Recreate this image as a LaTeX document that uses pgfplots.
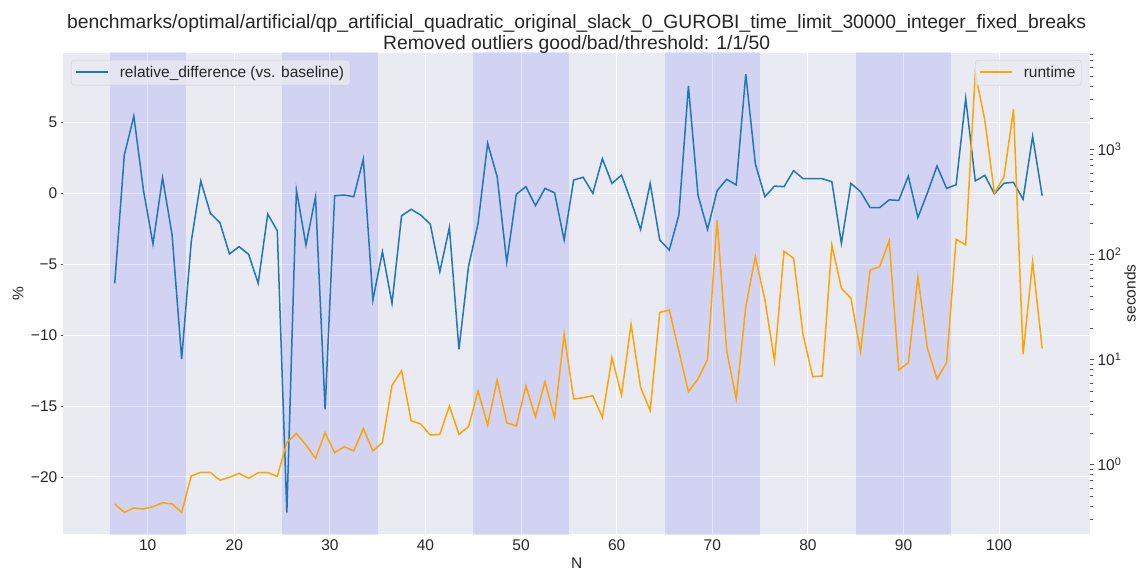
\documentclass[border=0pt]{standalone}
\usepackage{pgfplots}
\pgfplotsset{compat=1.18}
\usepackage{fontspec}
\setmainfont{Liberation Sans}

\definecolor{bg}{HTML}{EAEAF2}
\definecolor{diffblue}{HTML}{1F77B4}
\definecolor{runorange}{HTML}{FFA500}
\definecolor{tickgray}{HTML}{555555}
\definecolor{legedge}{HTML}{CCCCCC}
\definecolor{txt}{HTML}{262626}

\newcommand{\legstrut}{\rule[-3.5pt]{0pt}{15pt}}

% relative difference (%) per N
\pgfplotstableread{
x y
7.5 -6.35
8.5 2.70
9.5 5.45
10.5 0.23
11.5 -3.58
12.5 1.10
13.5 -2.94
14.5 -11.69
15.5 -3.41
16.5 0.87
17.5 -1.41
18.5 -2.07
19.5 -4.28
20.5 -3.76
21.5 -4.30
22.5 -6.35
23.5 -1.46
24.5 -2.64
25.5 -22.52
26.5 0.23
27.5 -3.65
28.5 -0.24
29.5 -15.23
30.5 -0.17
31.5 -0.12
32.5 -0.24
33.5 2.42
34.5 -7.52
35.5 -4.12
36.5 -7.76
37.5 -1.58
38.5 -1.13
39.5 -1.53
40.5 -2.17
41.5 -5.53
42.5 -2.42
43.5 -11.00
44.5 -5.17
45.5 -2.12
46.5 3.53
47.5 1.17
48.5 -4.87
49.5 -0.07
50.5 0.47
51.5 -0.87
52.5 0.35
53.5 0.04
54.5 -3.29
55.5 0.94
56.5 1.13
57.5 0.00
58.5 2.44
59.5 0.70
60.5 1.29
61.5 -0.55
62.5 -2.55
63.5 0.70
64.5 -3.29
65.5 -4.00
66.5 -1.53
67.5 7.57
68.5 -0.12
69.5 -2.54
70.5 0.18
71.5 0.99
72.5 0.59
73.5 8.41
74.5 2.07
75.5 -0.24
76.5 0.51
77.5 0.47
78.5 1.60
79.5 1.03
80.5 1.03
81.5 1.03
82.5 0.82
83.5 -3.53
84.5 0.70
85.5 0.12
86.5 -1.01
87.5 -1.01
88.5 -0.46
89.5 -0.50
90.5 1.21
91.5 -1.70
92.5 0.04
93.5 1.93
94.5 0.35
95.5 0.61
96.5 6.70
97.5 0.87
98.5 1.27
99.5 -0.03
100.5 0.71
101.5 0.78
102.5 -0.42
103.5 4.02
104.5 -0.17
}\reldiff

% runtime (seconds) per N
\pgfplotstableread{
x y
7.5 0.419
8.5 0.349
9.5 0.384
10.5 0.375
11.5 0.395
12.5 0.431
13.5 0.419
14.5 0.349
15.5 0.774
16.5 0.839
17.5 0.839
18.5 0.705
19.5 0.752
20.5 0.821
21.5 0.736
22.5 0.832
23.5 0.832
24.5 0.769
25.5 1.61
26.5 1.97
27.5 1.53
28.5 1.14
29.5 2.00
30.5 1.29
31.5 1.47
32.5 1.34
33.5 2.20
34.5 1.34
35.5 1.62
36.5 5.65
37.5 7.79
38.5 2.60
39.5 2.42
40.5 1.90
41.5 1.93
42.5 3.59
43.5 1.93
44.5 2.28
45.5 4.99
46.5 2.37
47.5 6.35
48.5 2.49
49.5 2.32
50.5 5.57
51.5 2.84
52.5 6.12
53.5 2.78
54.5 17.3
55.5 4.19
56.5 4.31
57.5 4.50
58.5 2.80
59.5 10.4
60.5 4.57
61.5 21.5
62.5 5.40
63.5 3.24
64.5 28.0
65.5 29.5
66.5 12.0
67.5 4.92
68.5 6.49
69.5 10.0
70.5 212
71.5 12.1
72.5 4.19
73.5 31.7
74.5 94.9
75.5 36.7
76.5 9.70
77.5 107
78.5 91.6
79.5 17.0
80.5 6.83
81.5 6.93
82.5 123
83.5 47.5
84.5 38.1
85.5 11.8
86.5 70.8
87.5 76.2
88.5 135
89.5 7.91
90.5 9.29
91.5 61.2
92.5 12.7
93.5 6.49
94.5 9.29
95.5 139
96.5 123
97.5 5300
98.5 1900
99.5 381
100.5 548
101.5 2404
102.5 11.2
103.5 85.1
104.5 12.7
}\runtime

\begin{document}
\begin{tikzpicture}[font=\fontsize{15.5}{18}\selectfont, every node/.append style={text=txt}]
\useasboundingbox (-63.3pt,-37pt) rectangle (1077.7pt,534pt);

\pgfplotsset{
  common/.style={
    at={(0pt,0pt)}, anchor=south west,
    scale only axis, width=1026.7pt, height=481.3pt,
    xmin=2.12, xmax=109.5,
    axis line style={draw=none},
    tick align=outside,
    legend image code/.code={\draw[##1, line width=1.6pt] (0pt,0.5pt) -- (32pt,0.5pt);},
    legend style={
      draw=legedge, fill=bg, fill opacity=0.8, text opacity=1, draw opacity=1,
      rounded corners=3pt, inner xsep=4pt, inner ysep=3.5pt,
      font=\fontsize{15.5}{18}\selectfont,
      nodes={inner xsep=2pt, inner ysep=2.5pt},
      /tikz/every odd column/.append style={column sep=9pt},
    },
  },
}

\begin{axis}[
  common,
  ymin=-24.03, ymax=9.92,
  axis background/.style={fill=bg},
  grid=major, major grid style={white, line width=0.9pt},
  xtick={10.94,20,30,40,50,60,70,80,90,100},
  xticklabels={10,20,30,40,50,60,70,80,90,100},
  ytick={-20,-15,-10,-5,0,5},
  yticklabels={−20,−15,−10,−5,0,5},
  xtick pos=bottom, ytick pos=left,
  xtick style={draw=none},
  ytick style={tickgray},
  major tick length=2.5pt,
  xlabel={N}, ylabel={\%},
  xlabel style={at={(axis description cs:0.5,-0.061)}, anchor=center},
  ylabel style={at={(axis description cs:-0.0441,0.5)}, anchor=center},
  title={benchmarks/optimal/artificial/qp\_artificial\_quadratic\_original\_slack\_0\_GUROBI\_time\_limit\_30000\_integer\_fixed\_breaks\\Removed outliers good/bad/threshold: 1/1/50},
  title style={align=center, font=\fontsize{19.3}{21.5}\selectfont, at={(0.5,1)}, anchor=south, yshift=-10.5pt},
  legend style={at={(0,1)}, anchor=north west, xshift=7.7pt, yshift=-7.3pt},
]
% shaded N ranges
\addplot[draw=none, fill=blue, fill opacity=0.1, forget plot] coordinates {(7,-30) (15,-30) (15,20) (7,20)} -- cycle;
\addplot[draw=none, fill=blue, fill opacity=0.1, forget plot] coordinates {(25,-30) (35,-30) (35,20) (25,20)} -- cycle;
\addplot[draw=none, fill=blue, fill opacity=0.1, forget plot] coordinates {(45,-30) (55,-30) (55,20) (45,20)} -- cycle;
\addplot[draw=none, fill=blue, fill opacity=0.1, forget plot] coordinates {(65,-30) (75,-30) (75,20) (65,20)} -- cycle;
\addplot[draw=none, fill=blue, fill opacity=0.1, forget plot] coordinates {(85,-30) (95,-30) (95,20) (85,20)} -- cycle;
\addplot[diffblue, line width=1.5pt] table {\reldiff};
\addlegendentry{\legstrut relative\_difference (vs. baseline)}
\end{axis}

\begin{axis}[
  common,
  ymode=log, ymin=0.217, ymax=8318,
  axis x line=none, axis y line*=right,
  ytick={1,10,100,1000},
  yticklabels={10\textsuperscript{0},10\textsuperscript{1},10\textsuperscript{2},10\textsuperscript{3}},
  minor ytick={0.3,0.4,0.5,0.6,0.7,0.8,0.9,2,3,4,5,6,7,8,9,20,30,40,50,60,70,80,90,200,300,400,500,600,700,800,900,2000,3000,4000,5000,6000,7000,8000},
  major tick length=4pt, minor tick length=2.5pt,
  tick style={tickgray},
  ylabel={seconds},
  ylabel style={at={(axis description cs:1.039,0.5)}, anchor=center},
  legend style={at={(1,1)}, anchor=north east, xshift=-8.3pt, yshift=-7.3pt},
]
\addplot[runorange, line width=1.5pt] table {\runtime};
\addlegendentry{\legstrut runtime}
\end{axis}
\end{tikzpicture}
\end{document}
